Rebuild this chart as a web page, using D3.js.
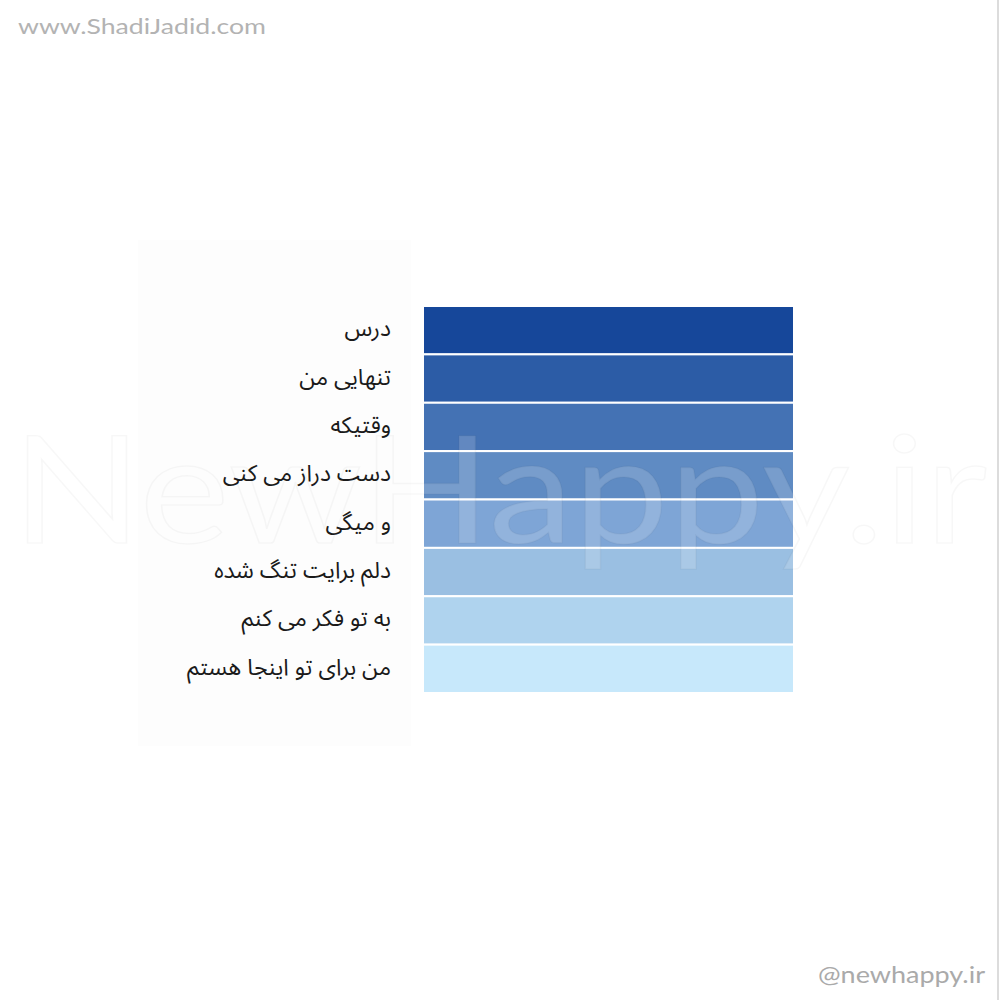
<!DOCTYPE html>
<html>
<head>
<meta charset="utf-8">
<script src="https://cdn.jsdelivr.net/npm/d3@7"></script>
<style>
html,body{margin:0;padding:0;background:#fff;}
svg{display:block;}
</style>
</head>
<body>
<svg id="chart" width="1000" height="1000"></svg>
<script>
const categories = ["درس", " تنهایی من", "وقتیکه", "دست دراز می کنی", " و میگی", "دلم برایت تنگ شده", "به تو فکر می کنم", "من برای تو اینجا هستم"];
const values = [12.5, 12.5, 12.5, 12.5, 12.5, 12.5, 12.5, 12.5];
const colors = ["#16479a", "#2c5ca6", "#4472b4", "#5f8bc3", "#7ea5d6", "#9abfe2", "#afd3ee", "#c7e8fb"];

const svg = d3.select("#chart");

// background panel behind labels
svg.append("rect").attr("x", 138).attr("y", 240).attr("width", 273).attr("height", 506)
  .attr("fill", "#fdfdfd");

// right border line
svg.append("line").attr("x1", 998).attr("x2", 998).attr("y1", 0).attr("y2", 1000)
  .attr("stroke", "#dcdcdc").attr("stroke-width", 2);

// stacked segments (first category on top)
let acc = 0;
const segs = categories.map((c, i) => { const s = {cat: c, y0: acc, y1: acc + values[i], color: colors[i]}; acc += values[i]; return s; });
const total = d3.sum(values);
const y = d3.scaleLinear().domain([0, total]).range([306, 693]);
const x = d3.scaleLinear().domain([0, 1]).range([423, 794]);

svg.append("g").selectAll("rect").data(segs).join("rect")
  .attr("x", x(0))
  .attr("width", x(1) - x(0))
  .attr("y", d => y(d.y0))
  .attr("height", d => y(d.y1) - y(d.y0))
  .attr("fill", d => d.color)
  .attr("stroke", "#fff").attr("stroke-width", 2);

// big watermark (behind labels)
svg.append("text").attr("x", 12).attr("y", 543)
  .attr("font-family", "Lato, 'Open Sans', sans-serif").attr("font-weight", 400)
  .attr("font-size", 150)
  .attr("textLength", 975).attr("lengthAdjust", "spacingAndGlyphs")
  .attr("fill", "#ffffff").attr("fill-opacity", 0.16)
  .attr("stroke", "#000").attr("stroke-opacity", 0.03).attr("stroke-width", 1.5)
  .text("NewHappy.ir");

svg.append("g").selectAll("text").data(segs).join("text")
  .attr("x", 391)
  .attr("y", d => (y(d.y0) + y(d.y1)) / 2 - 2)
  .attr("dy", "0.35em")
  .attr("text-anchor", "end")
  .style("white-space", "pre")
  .attr("font-family", "'Noto Sans Arabic', 'DejaVu Sans', sans-serif")
  .attr("font-size", 23)
  .attr("fill", "#1a1a1a")
  .text(d => d.cat);

// corner watermarks
svg.append("text").attr("x", 18).attr("y", 34)
  .attr("font-family", "Lato, 'Open Sans', sans-serif").attr("font-size", 21)
  .attr("textLength", 248).attr("lengthAdjust", "spacingAndGlyphs")
  .attr("fill", "#b3b3b3").text("www.ShadiJadid.com");

svg.append("text").attr("x", 818).attr("y", 983)
  .attr("font-family", "Lato, 'Open Sans', sans-serif").attr("font-size", 24)
  .attr("textLength", 167).attr("lengthAdjust", "spacingAndGlyphs")
  .attr("fill", "#aaaaaa").text("@newhappy.ir");
</script>
</body>
</html>
